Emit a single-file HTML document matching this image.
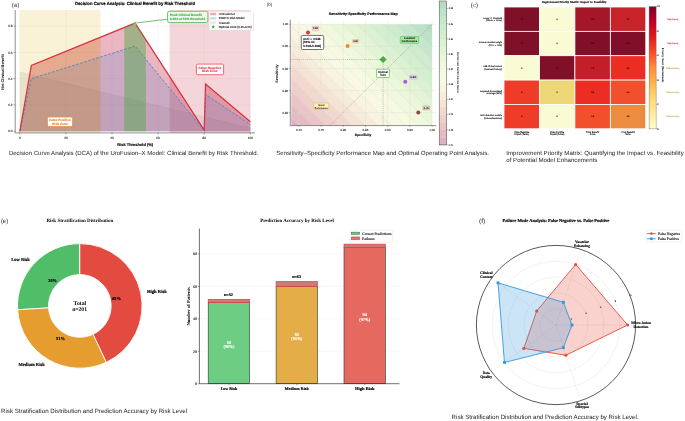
<!DOCTYPE html>
<html><head><meta charset="utf-8"><style>
html,body{margin:0;padding:0;background:#fff;width:685px;height:421px;overflow:hidden;}
svg{display:block;} text{text-rendering:geometricPrecision;}
</style></head><body>
<svg width="685" height="421" viewBox="0 0 685 421">
<rect width="685" height="421" fill="#fff"/>
<rect x="169.63" y="10" width="80.68" height="122.9" fill="#f4d5d9"/>
<line x1="19.8" y1="10" x2="19.8" y2="132.9" stroke="#b0b0b0" stroke-opacity="0.25" stroke-width="0.4"/>
<line x1="65.9" y1="10" x2="65.9" y2="132.9" stroke="#b0b0b0" stroke-opacity="0.25" stroke-width="0.4"/>
<line x1="112" y1="10" x2="112" y2="132.9" stroke="#b0b0b0" stroke-opacity="0.25" stroke-width="0.4"/>
<line x1="158.1" y1="10" x2="158.1" y2="132.9" stroke="#b0b0b0" stroke-opacity="0.25" stroke-width="0.4"/>
<line x1="204.2" y1="10" x2="204.2" y2="132.9" stroke="#b0b0b0" stroke-opacity="0.25" stroke-width="0.4"/>
<line x1="250.3" y1="10" x2="250.3" y2="132.9" stroke="#b0b0b0" stroke-opacity="0.25" stroke-width="0.4"/>
<line x1="15.2" y1="131.3" x2="255" y2="131.3" stroke="#b0b0b0" stroke-opacity="0.25" stroke-width="0.4"/>
<line x1="15.2" y1="105" x2="255" y2="105" stroke="#b0b0b0" stroke-opacity="0.25" stroke-width="0.4"/>
<line x1="15.2" y1="78.7" x2="255" y2="78.7" stroke="#b0b0b0" stroke-opacity="0.25" stroke-width="0.4"/>
<line x1="15.2" y1="52.4" x2="255" y2="52.4" stroke="#b0b0b0" stroke-opacity="0.25" stroke-width="0.4"/>
<line x1="15.2" y1="26.1" x2="255" y2="26.1" stroke="#b0b0b0" stroke-opacity="0.25" stroke-width="0.4"/>
<polygon points="19.8,72.12 250.3,128.01 250.3,131.3 19.8,131.3" fill="#808080" fill-opacity="0.13"/>
<line x1="19.8" y1="72.12" x2="250.3" y2="128.01" stroke="#999" stroke-opacity="0.25" stroke-width="0.5"/>
<polygon points="19.8,131.3 31.33,65.55 135.05,23.08 204.2,129.99 205.58,83.96 250.3,121.7 250.3,131.3 19.8,131.3" fill="#b80c34" fill-opacity="0.3"/>
<polygon points="19.8,131.3 31.33,78.7 135.05,46.09 204.2,130.64 205.58,94.48 250.3,124.33 250.3,131.3 19.8,131.3" fill="#4682c8" fill-opacity="0.19"/>
<polygon points="19.8,131.3 31.33,65.55 100.48,37.23 100.48,131.3" fill="#ff9a00" fill-opacity="0.11"/>
<rect x="19.8" y="10" width="80.68" height="122.9" fill="#f9f2d6" style="mix-blend-mode:multiply"/>
<polyline points="19.8,131.3 31.33,78.7 135.05,46.09 204.2,130.64 205.58,94.48 250.3,124.33" fill="none" stroke="#4a86c4" stroke-width="0.9" stroke-dasharray="2.6,1.6"/>
<polyline points="19.8,131.3 31.33,65.55 135.05,23.08 204.2,129.99 205.58,83.96 250.3,121.7" fill="none" stroke="#d8303a" stroke-width="1.2" stroke-linejoin="miter"/>
<polygon points="124.22,131.3 124.22,27.51 135.05,23.08 145.88,39.82 145.88,131.3" fill="#3caa32" fill-opacity="0.4"/>
<line x1="15.2" y1="10" x2="15.2" y2="132.9" stroke="#444" stroke-width="0.6"/>
<line x1="15.2" y1="132.9" x2="255" y2="132.9" stroke="#444" stroke-width="0.6"/>
<line x1="13.7" y1="131.3" x2="15.2" y2="131.3" stroke="#444" stroke-width="0.5"/>
<text x="12.5" y="132.4" font-size="3.1" font-family="'Liberation Sans', sans-serif" text-anchor="end" font-weight="normal" fill="#333" textLength="4.3" lengthAdjust="spacingAndGlyphs" stroke="#333" stroke-width="0.11">0.0</text>
<line x1="13.7" y1="105" x2="15.2" y2="105" stroke="#444" stroke-width="0.5"/>
<text x="12.5" y="106.1" font-size="3.1" font-family="'Liberation Sans', sans-serif" text-anchor="end" font-weight="normal" fill="#333" textLength="4.3" lengthAdjust="spacingAndGlyphs" stroke="#333" stroke-width="0.11">0.2</text>
<line x1="13.7" y1="78.7" x2="15.2" y2="78.7" stroke="#444" stroke-width="0.5"/>
<text x="12.5" y="79.8" font-size="3.1" font-family="'Liberation Sans', sans-serif" text-anchor="end" font-weight="normal" fill="#333" textLength="4.3" lengthAdjust="spacingAndGlyphs" stroke="#333" stroke-width="0.11">0.4</text>
<line x1="13.7" y1="52.4" x2="15.2" y2="52.4" stroke="#444" stroke-width="0.5"/>
<text x="12.5" y="53.5" font-size="3.1" font-family="'Liberation Sans', sans-serif" text-anchor="end" font-weight="normal" fill="#333" textLength="4.3" lengthAdjust="spacingAndGlyphs" stroke="#333" stroke-width="0.11">0.6</text>
<line x1="13.7" y1="26.1" x2="15.2" y2="26.1" stroke="#444" stroke-width="0.5"/>
<text x="12.5" y="27.2" font-size="3.1" font-family="'Liberation Sans', sans-serif" text-anchor="end" font-weight="normal" fill="#333" textLength="4.3" lengthAdjust="spacingAndGlyphs" stroke="#333" stroke-width="0.11">0.8</text>
<line x1="19.8" y1="132.9" x2="19.8" y2="134.4" stroke="#444" stroke-width="0.5"/>
<text x="19.8" y="139.1" font-size="3.1" font-family="'Liberation Sans', sans-serif" text-anchor="middle" font-weight="normal" fill="#333" stroke="#333" stroke-width="0.11">0</text>
<line x1="65.9" y1="132.9" x2="65.9" y2="134.4" stroke="#444" stroke-width="0.5"/>
<text x="65.9" y="139.1" font-size="3.1" font-family="'Liberation Sans', sans-serif" text-anchor="middle" font-weight="normal" fill="#333" stroke="#333" stroke-width="0.11">20</text>
<line x1="112" y1="132.9" x2="112" y2="134.4" stroke="#444" stroke-width="0.5"/>
<text x="112" y="139.1" font-size="3.1" font-family="'Liberation Sans', sans-serif" text-anchor="middle" font-weight="normal" fill="#333" stroke="#333" stroke-width="0.11">40</text>
<line x1="158.1" y1="132.9" x2="158.1" y2="134.4" stroke="#444" stroke-width="0.5"/>
<text x="158.1" y="139.1" font-size="3.1" font-family="'Liberation Sans', sans-serif" text-anchor="middle" font-weight="normal" fill="#333" stroke="#333" stroke-width="0.11">60</text>
<line x1="204.2" y1="132.9" x2="204.2" y2="134.4" stroke="#444" stroke-width="0.5"/>
<text x="204.2" y="139.1" font-size="3.1" font-family="'Liberation Sans', sans-serif" text-anchor="middle" font-weight="normal" fill="#333" stroke="#333" stroke-width="0.11">80</text>
<line x1="250.3" y1="132.9" x2="250.3" y2="134.4" stroke="#444" stroke-width="0.5"/>
<text x="250.3" y="139.1" font-size="3.1" font-family="'Liberation Sans', sans-serif" text-anchor="middle" font-weight="normal" fill="#333" stroke="#333" stroke-width="0.11">100</text>
<text x="135.2" y="145.9" font-size="3.94" font-family="'Liberation Sans', sans-serif" text-anchor="middle" font-weight="bold" fill="#000" textLength="35.7" lengthAdjust="spacingAndGlyphs" stroke="#000" stroke-width="0.14">Risk Threshold (%)</text>
<text transform="translate(3.9,72) rotate(-90)" font-size="3.93" font-family="'Liberation Sans', sans-serif" text-anchor="middle" font-weight="bold" textLength="35.8" lengthAdjust="spacingAndGlyphs">Net Clinical Benefit</text>
<text x="74.9" y="4.6" font-size="4.5" font-family="'Liberation Sans', sans-serif" text-anchor="start" font-weight="bold" fill="#000" textLength="120.1" lengthAdjust="spacingAndGlyphs" stroke="#000" stroke-width="0.16">Decision Curve Analysis: Clinical Benefit by Risk Threshold</text>
<text x="11.8" y="6.8" font-size="6" font-family="'Liberation Sans', sans-serif" text-anchor="start" font-weight="normal" fill="#333" textLength="7.4" lengthAdjust="spacingAndGlyphs">(a)</text>
<line x1="135.05" y1="23.08" x2="167.5" y2="19.2" stroke="#3aa33a" stroke-width="0.7"/>
<polygon points="135.05,21.28 135.53,22.42 136.76,22.52 135.82,23.33 136.11,24.53 135.05,23.89 133.99,24.53 134.28,23.33 133.34,22.52 134.57,22.42" fill="#2e9e2e" stroke="white" stroke-width="0.4"/>
<rect x="167.5" y="11.3" width="40.3" height="11.2" rx="1.6" fill="#eef8ee" stroke="#5cb85c" stroke-width="0.8"/>
<text x="170.1" y="15.8" font-size="3.22" font-family="'Liberation Sans', sans-serif" text-anchor="start" font-weight="bold" fill="#4cae4c" textLength="31.7" lengthAdjust="spacingAndGlyphs" stroke="#4cae4c" stroke-width="0.11">Peak Clinical Benefit</text>
<text x="170.1" y="19.7" font-size="3.22" font-family="'Liberation Sans', sans-serif" text-anchor="start" font-weight="bold" fill="#4cae4c" textLength="34.9" lengthAdjust="spacingAndGlyphs" stroke="#4cae4c" stroke-width="0.11">0.823 at 50% threshold</text>
<rect x="209.7" y="12.3" width="44.2" height="18.6" rx="0.8" fill="#000" fill-opacity="0.12"/>
<rect x="209.2" y="11.8" width="44.2" height="18.6" rx="0.8" fill="#fff" fill-opacity="0.95" stroke="#ddd" stroke-width="0.3"/>
<rect x="210.2" y="12.8" width="6" height="2.4" fill="#e8a8b2"/>
<text x="218.8" y="15.05" font-size="2.94" font-family="'Liberation Sans', sans-serif" text-anchor="start" font-weight="normal" fill="#222" stroke="#222" stroke-width="0.1">UroFusion-X</text>
<rect x="210.2" y="17.1" width="6" height="2.4" fill="#c8dbeb"/>
<text x="218.8" y="19.35" font-size="2.94" font-family="'Liberation Sans', sans-serif" text-anchor="start" font-weight="normal" fill="#222" stroke="#222" stroke-width="0.1">EORTC Risk Model</text>
<rect x="210.2" y="21.4" width="6" height="2.4" fill="#e8e8e8"/>
<text x="218.8" y="23.65" font-size="2.94" font-family="'Liberation Sans', sans-serif" text-anchor="start" font-weight="normal" fill="#222" stroke="#222" stroke-width="0.1">Treat All</text>
<polygon points="213.2,25.1 213.7,26.31 215.01,26.41 214.01,27.26 214.32,28.54 213.2,27.86 212.08,28.54 212.39,27.26 211.39,26.41 212.7,26.31" fill="#2e9e2e" stroke="none" stroke-width="0.4"/>
<text x="218.8" y="27.95" font-size="2.94" font-family="'Liberation Sans', sans-serif" text-anchor="start" font-weight="normal" fill="#222" textLength="32.9" lengthAdjust="spacingAndGlyphs" stroke="#222" stroke-width="0.1">Optimal Zone (0.45-0.55)</text>
<rect x="47.4" y="117" width="25.2" height="9.6" rx="1.4" fill="#fff" stroke="#e8873a" stroke-width="0.75"/>
<text x="60" y="120.8" font-size="3.27" font-family="'Liberation Sans', sans-serif" text-anchor="middle" font-weight="bold" fill="#e8873a" textLength="21.8" lengthAdjust="spacingAndGlyphs" stroke="#e8873a" stroke-width="0.11">False Positive</text>
<text x="60" y="124.5" font-size="3.27" font-family="'Liberation Sans', sans-serif" text-anchor="middle" font-weight="bold" fill="#e8873a" textLength="15.6" lengthAdjust="spacingAndGlyphs" stroke="#e8873a" stroke-width="0.11">Risk Zone</text>
<rect x="196.4" y="64.1" width="27.2" height="10.6" rx="1.4" fill="#fff" stroke="#e04a50" stroke-width="0.8"/>
<text x="209.85" y="68.5" font-size="3.27" font-family="'Liberation Sans', sans-serif" text-anchor="middle" font-weight="bold" fill="#e04a50" textLength="22.9" lengthAdjust="spacingAndGlyphs" stroke="#e04a50" stroke-width="0.11">False Negative</text>
<text x="209.75" y="72.1" font-size="3.27" font-family="'Liberation Sans', sans-serif" text-anchor="middle" font-weight="bold" fill="#e04a50" textLength="15.7" lengthAdjust="spacingAndGlyphs" stroke="#e04a50" stroke-width="0.11">Risk Zone</text>
<text x="8.9" y="155.1" font-size="6" font-family="'Liberation Sans', sans-serif" text-anchor="start" font-weight="normal" fill="#222" textLength="249.5" lengthAdjust="spacingAndGlyphs">Decision Curve Analysis (DCA) of the UroFusion–X Model: Clinical Benefit by Risk Threshold.</text>
<clipPath id="bclip"><rect x="291.3" y="24.3" width="140.7" height="101.3"/></clipPath>
<g clip-path="url(#bclip)">
<polygon points="-121.56,19.3 191.76,19.3 303.56,130.6 -9.76,130.6" fill="#deb1c2" stroke="#deb1c2" stroke-width="0.25"/>
<polygon points="191.76,19.3 205.08,19.3 316.88,130.6 303.56,130.6" fill="#e5bac3" stroke="#e5bac3" stroke-width="0.25"/>
<polygon points="205.08,19.3 218.4,19.3 330.2,130.6 316.88,130.6" fill="#ebc4c7" stroke="#ebc4c7" stroke-width="0.25"/>
<polygon points="218.4,19.3 231.72,19.3 343.52,130.6 330.2,130.6" fill="#efcfcc" stroke="#efcfcc" stroke-width="0.25"/>
<polygon points="231.72,19.3 245.04,19.3 356.84,130.6 343.52,130.6" fill="#f2d9d0" stroke="#f2d9d0" stroke-width="0.25"/>
<polygon points="245.04,19.3 258.36,19.3 370.16,130.6 356.84,130.6" fill="#f5e4d5" stroke="#f5e4d5" stroke-width="0.25"/>
<polygon points="258.36,19.3 271.68,19.3 383.48,130.6 370.16,130.6" fill="#f7ecdb" stroke="#f7ecdb" stroke-width="0.25"/>
<polygon points="271.68,19.3 285,19.3 396.8,130.6 383.48,130.6" fill="#f9f3e2" stroke="#f9f3e2" stroke-width="0.25"/>
<polygon points="285,19.3 298.32,19.3 410.12,130.6 396.8,130.6" fill="#f8f8e4" stroke="#f8f8e4" stroke-width="0.25"/>
<polygon points="298.32,19.3 311.64,19.3 423.44,130.6 410.12,130.6" fill="#f5fae1" stroke="#f5fae1" stroke-width="0.25"/>
<polygon points="311.64,19.3 324.96,19.3 436.76,130.6 423.44,130.6" fill="#f0f9dd" stroke="#f0f9dd" stroke-width="0.25"/>
<polygon points="324.96,19.3 338.28,19.3 450.08,130.6 436.76,130.6" fill="#eaf7d8" stroke="#eaf7d8" stroke-width="0.25"/>
<polygon points="338.28,19.3 351.6,19.3 463.4,130.6 450.08,130.6" fill="#e3f4d5" stroke="#e3f4d5" stroke-width="0.25"/>
<polygon points="351.6,19.3 364.92,19.3 476.72,130.6 463.4,130.6" fill="#dbf1d2" stroke="#dbf1d2" stroke-width="0.25"/>
<polygon points="364.92,19.3 378.24,19.3 490.04,130.6 476.72,130.6" fill="#d4eed0" stroke="#d4eed0" stroke-width="0.25"/>
<polygon points="378.24,19.3 391.56,19.3 503.36,130.6 490.04,130.6" fill="#ceebce" stroke="#ceebce" stroke-width="0.25"/>
<polygon points="391.56,19.3 404.88,19.3 516.68,130.6 503.36,130.6" fill="#c6e7cc" stroke="#c6e7cc" stroke-width="0.25"/>
<polygon points="404.88,19.3 418.2,19.3 530,130.6 516.68,130.6" fill="#bee2c9" stroke="#bee2c9" stroke-width="0.25"/>
<polygon points="418.2,19.3 731.52,19.3 843.32,130.6 530,130.6" fill="#b6dbc5" stroke="#b6dbc5" stroke-width="0.25"/>
<line x1="191.76" y1="19.3" x2="303.56" y2="130.6" stroke="#808080" stroke-opacity="0.2" stroke-width="0.4"/>
<line x1="205.08" y1="19.3" x2="316.88" y2="130.6" stroke="#808080" stroke-opacity="0.2" stroke-width="0.4"/>
<line x1="218.4" y1="19.3" x2="330.2" y2="130.6" stroke="#808080" stroke-opacity="0.2" stroke-width="0.4"/>
<line x1="231.72" y1="19.3" x2="343.52" y2="130.6" stroke="#808080" stroke-opacity="0.2" stroke-width="0.4"/>
<line x1="245.04" y1="19.3" x2="356.84" y2="130.6" stroke="#808080" stroke-opacity="0.2" stroke-width="0.4"/>
<line x1="258.36" y1="19.3" x2="370.16" y2="130.6" stroke="#808080" stroke-opacity="0.2" stroke-width="0.4"/>
<line x1="271.68" y1="19.3" x2="383.48" y2="130.6" stroke="#808080" stroke-opacity="0.2" stroke-width="0.4"/>
<line x1="285" y1="19.3" x2="396.8" y2="130.6" stroke="#808080" stroke-opacity="0.2" stroke-width="0.4"/>
<line x1="298.32" y1="19.3" x2="410.12" y2="130.6" stroke="#808080" stroke-opacity="0.2" stroke-width="0.4"/>
<line x1="311.64" y1="19.3" x2="423.44" y2="130.6" stroke="#808080" stroke-opacity="0.2" stroke-width="0.4"/>
<line x1="324.96" y1="19.3" x2="436.76" y2="130.6" stroke="#808080" stroke-opacity="0.2" stroke-width="0.4"/>
<line x1="338.28" y1="19.3" x2="450.08" y2="130.6" stroke="#808080" stroke-opacity="0.2" stroke-width="0.4"/>
<line x1="351.6" y1="19.3" x2="463.4" y2="130.6" stroke="#808080" stroke-opacity="0.2" stroke-width="0.4"/>
<line x1="364.92" y1="19.3" x2="476.72" y2="130.6" stroke="#808080" stroke-opacity="0.2" stroke-width="0.4"/>
<line x1="378.24" y1="19.3" x2="490.04" y2="130.6" stroke="#808080" stroke-opacity="0.2" stroke-width="0.4"/>
<line x1="391.56" y1="19.3" x2="503.36" y2="130.6" stroke="#808080" stroke-opacity="0.2" stroke-width="0.4"/>
<line x1="404.88" y1="19.3" x2="516.68" y2="130.6" stroke="#808080" stroke-opacity="0.2" stroke-width="0.4"/>
<line x1="418.2" y1="19.3" x2="530" y2="130.6" stroke="#808080" stroke-opacity="0.2" stroke-width="0.4"/>
</g>
<line x1="298.9" y1="19.6" x2="298.9" y2="125.6" stroke="#d8d8d8" stroke-opacity="0.7" stroke-width="0.45"/>
<line x1="321.1" y1="19.6" x2="321.1" y2="125.6" stroke="#d8d8d8" stroke-opacity="0.7" stroke-width="0.45"/>
<line x1="343.3" y1="19.6" x2="343.3" y2="125.6" stroke="#d8d8d8" stroke-opacity="0.7" stroke-width="0.45"/>
<line x1="365.5" y1="19.6" x2="365.5" y2="125.6" stroke="#d8d8d8" stroke-opacity="0.7" stroke-width="0.45"/>
<line x1="387.7" y1="19.6" x2="387.7" y2="125.6" stroke="#d8d8d8" stroke-opacity="0.7" stroke-width="0.45"/>
<line x1="409.9" y1="19.6" x2="409.9" y2="125.6" stroke="#d8d8d8" stroke-opacity="0.7" stroke-width="0.45"/>
<line x1="432.1" y1="19.6" x2="432.1" y2="125.6" stroke="#d8d8d8" stroke-opacity="0.7" stroke-width="0.45"/>
<line x1="290.3" y1="112.7" x2="436.4" y2="112.7" stroke="#d8d8d8" stroke-opacity="0.7" stroke-width="0.45"/>
<line x1="290.3" y1="90.6" x2="436.4" y2="90.6" stroke="#d8d8d8" stroke-opacity="0.7" stroke-width="0.45"/>
<line x1="290.3" y1="68.5" x2="436.4" y2="68.5" stroke="#d8d8d8" stroke-opacity="0.7" stroke-width="0.45"/>
<line x1="290.3" y1="46.4" x2="436.4" y2="46.4" stroke="#d8d8d8" stroke-opacity="0.7" stroke-width="0.45"/>
<line x1="290.3" y1="24.3" x2="436.4" y2="24.3" stroke="#d8d8d8" stroke-opacity="0.7" stroke-width="0.45"/>
<line x1="329.89" y1="125.6" x2="432.1" y2="24.3" stroke="#555" stroke-opacity="0.65" stroke-width="0.45" stroke-dasharray="1.4,1.0"/>
<line x1="290.3" y1="59.5" x2="383.1" y2="59.5" stroke="#666" stroke-opacity="0.75" stroke-width="0.45" stroke-dasharray="1.2,0.9"/>
<line x1="383.1" y1="59.5" x2="383.1" y2="125.6" stroke="#666" stroke-opacity="0.75" stroke-width="0.45" stroke-dasharray="1.2,0.9"/>
<line x1="290.3" y1="19.6" x2="290.3" y2="125.6" stroke="#444" stroke-width="0.6"/>
<line x1="290.3" y1="125.6" x2="436.4" y2="125.6" stroke="#444" stroke-width="0.6"/>
<line x1="289" y1="112.7" x2="290.3" y2="112.7" stroke="#444" stroke-width="0.4"/>
<text x="288.3" y="113.75" font-size="3" font-family="'Liberation Sans', sans-serif" text-anchor="end" font-weight="normal" fill="#333" stroke="#333" stroke-width="0.1">0.80</text>
<line x1="289" y1="90.6" x2="290.3" y2="90.6" stroke="#444" stroke-width="0.4"/>
<text x="288.3" y="91.65" font-size="3" font-family="'Liberation Sans', sans-serif" text-anchor="end" font-weight="normal" fill="#333" stroke="#333" stroke-width="0.1">0.85</text>
<line x1="289" y1="68.5" x2="290.3" y2="68.5" stroke="#444" stroke-width="0.4"/>
<text x="288.3" y="69.55" font-size="3" font-family="'Liberation Sans', sans-serif" text-anchor="end" font-weight="normal" fill="#333" stroke="#333" stroke-width="0.1">0.90</text>
<line x1="289" y1="46.4" x2="290.3" y2="46.4" stroke="#444" stroke-width="0.4"/>
<text x="288.3" y="47.45" font-size="3" font-family="'Liberation Sans', sans-serif" text-anchor="end" font-weight="normal" fill="#333" stroke="#333" stroke-width="0.1">0.95</text>
<line x1="289" y1="24.3" x2="290.3" y2="24.3" stroke="#444" stroke-width="0.4"/>
<text x="288.3" y="25.35" font-size="3" font-family="'Liberation Sans', sans-serif" text-anchor="end" font-weight="normal" fill="#333" stroke="#333" stroke-width="0.1">1.00</text>
<line x1="298.9" y1="125.6" x2="298.9" y2="126.9" stroke="#444" stroke-width="0.4"/>
<text x="298.9" y="130.5" font-size="3" font-family="'Liberation Sans', sans-serif" text-anchor="middle" font-weight="normal" fill="#333" stroke="#333" stroke-width="0.1">0.70</text>
<line x1="321.1" y1="125.6" x2="321.1" y2="126.9" stroke="#444" stroke-width="0.4"/>
<text x="321.1" y="130.5" font-size="3" font-family="'Liberation Sans', sans-serif" text-anchor="middle" font-weight="normal" fill="#333" stroke="#333" stroke-width="0.1">0.75</text>
<line x1="343.3" y1="125.6" x2="343.3" y2="126.9" stroke="#444" stroke-width="0.4"/>
<text x="343.3" y="130.5" font-size="3" font-family="'Liberation Sans', sans-serif" text-anchor="middle" font-weight="normal" fill="#333" stroke="#333" stroke-width="0.1">0.80</text>
<line x1="365.5" y1="125.6" x2="365.5" y2="126.9" stroke="#444" stroke-width="0.4"/>
<text x="365.5" y="130.5" font-size="3" font-family="'Liberation Sans', sans-serif" text-anchor="middle" font-weight="normal" fill="#333" stroke="#333" stroke-width="0.1">0.85</text>
<line x1="387.7" y1="125.6" x2="387.7" y2="126.9" stroke="#444" stroke-width="0.4"/>
<text x="387.7" y="130.5" font-size="3" font-family="'Liberation Sans', sans-serif" text-anchor="middle" font-weight="normal" fill="#333" stroke="#333" stroke-width="0.1">0.90</text>
<line x1="409.9" y1="125.6" x2="409.9" y2="126.9" stroke="#444" stroke-width="0.4"/>
<text x="409.9" y="130.5" font-size="3" font-family="'Liberation Sans', sans-serif" text-anchor="middle" font-weight="normal" fill="#333" stroke="#333" stroke-width="0.1">0.95</text>
<line x1="432.1" y1="125.6" x2="432.1" y2="126.9" stroke="#444" stroke-width="0.4"/>
<text x="432.1" y="130.5" font-size="3" font-family="'Liberation Sans', sans-serif" text-anchor="middle" font-weight="normal" fill="#333" stroke="#333" stroke-width="0.1">1.00</text>
<text x="363.1" y="136" font-size="3.32" font-family="'Liberation Sans', sans-serif" text-anchor="middle" font-weight="bold" fill="#000" textLength="16.6" lengthAdjust="spacingAndGlyphs" stroke="#000" stroke-width="0.12">Specificity</text>
<text transform="translate(278.3,73.5) rotate(-90)" font-size="3.66" font-family="'Liberation Sans', sans-serif" text-anchor="middle" font-weight="bold" textLength="18.3" lengthAdjust="spacingAndGlyphs">Sensitivity</text>
<text x="328.8" y="14.7" font-size="3.63" font-family="'Liberation Sans', sans-serif" text-anchor="start" font-weight="bold" fill="#000" textLength="68.9" lengthAdjust="spacingAndGlyphs" stroke="#000" stroke-width="0.13">Sensitivity-Specificity Performance Map</text>
<text x="266.8" y="5.9" font-size="5" font-family="'Liberation Sans', sans-serif" text-anchor="start" font-weight="normal" fill="#333" textLength="5.6" lengthAdjust="spacingAndGlyphs">(b)</text>
<circle cx="308" cy="32.6" r="2.0" fill="#d9363e"/>
<circle cx="347.6" cy="46.1" r="2.0" fill="#ef8a2a"/>
<circle cx="405.3" cy="81.8" r="2.0" fill="#a064d2"/>
<circle cx="418.3" cy="112.6" r="2.0" fill="#8b4a3a"/>
<polygon points="383.1,55.9 386.7,59.5 383.1,63.1 379.5,59.5" fill="#45ad40"/>
<rect x="312.3" y="26.3" width="6.3" height="4.4" rx="0.4" fill="#f6e6e6" stroke="#e08080" stroke-width="0.45"/>
<text x="315.45" y="29.4" font-size="2.6" font-family="'Liberation Sans', sans-serif" text-anchor="middle" font-weight="bold" fill="#222" textLength="4.9" lengthAdjust="spacingAndGlyphs" stroke="#222" stroke-width="0.09">0.88</text>
<rect x="352.5" y="39.5" width="6.1" height="3.5" rx="0.4" fill="#fbe6d2" stroke="#ef9a5a" stroke-width="0.45"/>
<text x="355.55" y="42.15" font-size="2.6" font-family="'Liberation Sans', sans-serif" text-anchor="middle" font-weight="bold" fill="#222" textLength="4.7" lengthAdjust="spacingAndGlyphs" stroke="#222" stroke-width="0.09">0.90</text>
<rect x="409.5" y="75.3" width="7.5" height="3.7" rx="0.4" fill="#ece4f2" stroke="#b090d0" stroke-width="0.45"/>
<text x="413.25" y="78.05" font-size="2.6" font-family="'Liberation Sans', sans-serif" text-anchor="middle" font-weight="bold" fill="#222" textLength="6.1" lengthAdjust="spacingAndGlyphs" stroke="#222" stroke-width="0.09">0.90</text>
<rect x="423.1" y="106" width="6.4" height="3.8" rx="0.4" fill="#efe4e0" stroke="#a07070" stroke-width="0.45"/>
<text x="426.3" y="108.8" font-size="2.6" font-family="'Liberation Sans', sans-serif" text-anchor="middle" font-weight="bold" fill="#222" textLength="5" lengthAdjust="spacingAndGlyphs" stroke="#222" stroke-width="0.09">0.75</text>
<rect x="301.3" y="35.4" width="22.4" height="14.1" rx="1.2" fill="#fff" stroke="#333" stroke-width="0.7"/>
<text x="303" y="39.7" font-size="3" font-family="'Liberation Sans', sans-serif" text-anchor="start" font-weight="bold" fill="#111" textLength="17.5" lengthAdjust="spacingAndGlyphs" stroke="#111" stroke-width="0.1">AUC = 0.938</text>
<text x="303" y="43.3" font-size="3" font-family="'Liberation Sans', sans-serif" text-anchor="start" font-weight="bold" fill="#111" textLength="12" lengthAdjust="spacingAndGlyphs" stroke="#111" stroke-width="0.1">(95% CI:</text>
<text x="303" y="46.9" font-size="3" font-family="'Liberation Sans', sans-serif" text-anchor="start" font-weight="bold" fill="#111" textLength="18" lengthAdjust="spacingAndGlyphs" stroke="#111" stroke-width="0.1">0.918-0.958)</text>
<rect x="400.3" y="36.5" width="18.4" height="6.8" rx="0.6" fill="#a4e89c" stroke="#4cba45" stroke-width="0.5"/>
<text x="409.5" y="39.4" font-size="2.5" font-family="'Liberation Sans', sans-serif" text-anchor="middle" font-weight="bold" fill="#222" textLength="11" lengthAdjust="spacingAndGlyphs" stroke="#222" stroke-width="0.09">Excellent</text>
<text x="409.5" y="42.3" font-size="2.5" font-family="'Liberation Sans', sans-serif" text-anchor="middle" font-weight="bold" fill="#222" textLength="15.3" lengthAdjust="spacingAndGlyphs" stroke="#222" stroke-width="0.09">Performance</text>
<rect x="376.5" y="69.2" width="12.9" height="8.3" rx="0.7" fill="#fff" stroke="#4cba45" stroke-width="0.65"/>
<text x="383" y="72.8" font-size="2.8" font-family="'Liberation Sans', sans-serif" text-anchor="middle" font-weight="bold" fill="#222" textLength="10.2" lengthAdjust="spacingAndGlyphs" stroke="#222" stroke-width="0.1">Optimal</text>
<text x="383" y="75.9" font-size="2.8" font-family="'Liberation Sans', sans-serif" text-anchor="middle" font-weight="bold" fill="#222" textLength="5.4" lengthAdjust="spacingAndGlyphs" stroke="#222" stroke-width="0.1">0.90</text>
<rect x="313.8" y="103.1" width="15" height="6.5" rx="0.6" fill="#fdf3c0" stroke="#f0b030" stroke-width="0.5"/>
<text x="321.3" y="106" font-size="2.4" font-family="'Liberation Sans', sans-serif" text-anchor="middle" font-weight="bold" fill="#333" textLength="6.2" lengthAdjust="spacingAndGlyphs" stroke="#333" stroke-width="0.08">Good</text>
<text x="321.3" y="108.8" font-size="2.4" font-family="'Liberation Sans', sans-serif" text-anchor="middle" font-weight="bold" fill="#333" textLength="13.2" lengthAdjust="spacingAndGlyphs" stroke="#333" stroke-width="0.08">Performance</text>
<rect x="439.2" y="137.33" width="7.5" height="7.87" fill="#deb1c2"/>
<rect x="439.2" y="129.75" width="7.5" height="7.87" fill="#e5bac3"/>
<rect x="439.2" y="122.18" width="7.5" height="7.87" fill="#ebc4c7"/>
<rect x="439.2" y="114.61" width="7.5" height="7.87" fill="#efcfcc"/>
<rect x="439.2" y="107.03" width="7.5" height="7.87" fill="#f2d9d0"/>
<rect x="439.2" y="99.46" width="7.5" height="7.87" fill="#f5e4d5"/>
<rect x="439.2" y="91.88" width="7.5" height="7.87" fill="#f7ecdb"/>
<rect x="439.2" y="84.31" width="7.5" height="7.87" fill="#f9f3e2"/>
<rect x="439.2" y="76.74" width="7.5" height="7.87" fill="#f8f8e4"/>
<rect x="439.2" y="69.16" width="7.5" height="7.87" fill="#f5fae1"/>
<rect x="439.2" y="61.59" width="7.5" height="7.87" fill="#f0f9dd"/>
<rect x="439.2" y="54.02" width="7.5" height="7.87" fill="#eaf7d8"/>
<rect x="439.2" y="46.44" width="7.5" height="7.87" fill="#e3f4d5"/>
<rect x="439.2" y="38.87" width="7.5" height="7.87" fill="#dbf1d2"/>
<rect x="439.2" y="31.29" width="7.5" height="7.87" fill="#d4eed0"/>
<rect x="439.2" y="23.72" width="7.5" height="7.87" fill="#ceebce"/>
<rect x="439.2" y="16.15" width="7.5" height="7.87" fill="#c6e7cc"/>
<rect x="439.2" y="8.57" width="7.5" height="7.87" fill="#bee2c9"/>
<rect x="439.2" y="1" width="7.5" height="7.87" fill="#b6dbc5"/>
<rect x="439.2" y="1" width="7.5" height="143.9" fill="none" stroke="#444" stroke-width="0.5"/>
<line x1="446.7" y1="144.9" x2="447.9" y2="144.9" stroke="#444" stroke-width="0.4"/>
<text x="448.8" y="145.75" font-size="2.4" font-family="'Liberation Sans', sans-serif" text-anchor="start" font-weight="normal" fill="#222" textLength="4.3" lengthAdjust="spacingAndGlyphs" stroke="#222" stroke-width="0.08">0.72</text>
<line x1="446.7" y1="129.75" x2="447.9" y2="129.75" stroke="#444" stroke-width="0.4"/>
<text x="448.8" y="130.6" font-size="2.4" font-family="'Liberation Sans', sans-serif" text-anchor="start" font-weight="normal" fill="#222" textLength="4.3" lengthAdjust="spacingAndGlyphs" stroke="#222" stroke-width="0.08">0.75</text>
<line x1="446.7" y1="114.61" x2="447.9" y2="114.61" stroke="#444" stroke-width="0.4"/>
<text x="448.8" y="115.46" font-size="2.4" font-family="'Liberation Sans', sans-serif" text-anchor="start" font-weight="normal" fill="#222" textLength="4.3" lengthAdjust="spacingAndGlyphs" stroke="#222" stroke-width="0.08">0.78</text>
<line x1="446.7" y1="99.46" x2="447.9" y2="99.46" stroke="#444" stroke-width="0.4"/>
<text x="448.8" y="100.31" font-size="2.4" font-family="'Liberation Sans', sans-serif" text-anchor="start" font-weight="normal" fill="#222" textLength="4.3" lengthAdjust="spacingAndGlyphs" stroke="#222" stroke-width="0.08">0.81</text>
<line x1="446.7" y1="84.31" x2="447.9" y2="84.31" stroke="#444" stroke-width="0.4"/>
<text x="448.8" y="85.16" font-size="2.4" font-family="'Liberation Sans', sans-serif" text-anchor="start" font-weight="normal" fill="#222" textLength="4.3" lengthAdjust="spacingAndGlyphs" stroke="#222" stroke-width="0.08">0.84</text>
<line x1="446.7" y1="69.16" x2="447.9" y2="69.16" stroke="#444" stroke-width="0.4"/>
<text x="448.8" y="70.01" font-size="2.4" font-family="'Liberation Sans', sans-serif" text-anchor="start" font-weight="normal" fill="#222" textLength="4.3" lengthAdjust="spacingAndGlyphs" stroke="#222" stroke-width="0.08">0.87</text>
<line x1="446.7" y1="54.02" x2="447.9" y2="54.02" stroke="#444" stroke-width="0.4"/>
<text x="448.8" y="54.87" font-size="2.4" font-family="'Liberation Sans', sans-serif" text-anchor="start" font-weight="normal" fill="#222" textLength="4.3" lengthAdjust="spacingAndGlyphs" stroke="#222" stroke-width="0.08">0.90</text>
<line x1="446.7" y1="38.87" x2="447.9" y2="38.87" stroke="#444" stroke-width="0.4"/>
<text x="448.8" y="39.72" font-size="2.4" font-family="'Liberation Sans', sans-serif" text-anchor="start" font-weight="normal" fill="#222" textLength="4.3" lengthAdjust="spacingAndGlyphs" stroke="#222" stroke-width="0.08">0.93</text>
<line x1="446.7" y1="23.72" x2="447.9" y2="23.72" stroke="#444" stroke-width="0.4"/>
<text x="448.8" y="24.57" font-size="2.4" font-family="'Liberation Sans', sans-serif" text-anchor="start" font-weight="normal" fill="#222" textLength="4.3" lengthAdjust="spacingAndGlyphs" stroke="#222" stroke-width="0.08">0.96</text>
<line x1="446.7" y1="8.57" x2="447.9" y2="8.57" stroke="#444" stroke-width="0.4"/>
<text x="448.8" y="9.42" font-size="2.4" font-family="'Liberation Sans', sans-serif" text-anchor="start" font-weight="normal" fill="#222" textLength="4.3" lengthAdjust="spacingAndGlyphs" stroke="#222" stroke-width="0.08">0.99</text>
<text transform="translate(456.6,72.5) rotate(90)" font-size="2.9" font-family="'Liberation Sans', sans-serif" text-anchor="middle" font-weight="bold" fill="#222" textLength="40.5" lengthAdjust="spacingAndGlyphs">Combined Performance Score</text>
<text x="276.2" y="154.6" font-size="6" font-family="'Liberation Sans', sans-serif" text-anchor="start" font-weight="normal" fill="#222" textLength="212.8" lengthAdjust="spacingAndGlyphs">Sensitivity–Specificity Performance Map and Optimal Operating Point Analysis.</text>
<rect x="504" y="7" width="35.45" height="24.36" fill="#801028" stroke="#fff" stroke-width="0.8"/>
<text x="521.73" y="19.93" font-size="2.3" font-family="'Liberation Serif', serif" text-anchor="middle" font-weight="bold" fill="#111" stroke="#111" stroke-width="0.1">9</text>
<rect x="539.45" y="7" width="35.45" height="24.36" fill="#f8fbd3" stroke="#fff" stroke-width="0.8"/>
<text x="557.18" y="19.93" font-size="2.3" font-family="'Liberation Serif', serif" text-anchor="middle" font-weight="bold" fill="#111" stroke="#111" stroke-width="0.1">0</text>
<rect x="574.9" y="7" width="35.45" height="24.36" fill="#a5162a" stroke="#fff" stroke-width="0.8"/>
<text x="592.62" y="19.93" font-size="2.3" font-family="'Liberation Serif', serif" text-anchor="middle" font-weight="bold" fill="#111" stroke="#111" stroke-width="0.1">8.8</text>
<rect x="610.35" y="7" width="35.45" height="24.36" fill="#c82328" stroke="#fff" stroke-width="0.8"/>
<text x="628.08" y="19.93" font-size="2.3" font-family="'Liberation Serif', serif" text-anchor="middle" font-weight="bold" fill="#111" stroke="#111" stroke-width="0.1">7.2</text>
<rect x="504" y="31.36" width="35.45" height="24.36" fill="#801028" stroke="#fff" stroke-width="0.8"/>
<text x="521.73" y="44.29" font-size="2.3" font-family="'Liberation Serif', serif" text-anchor="middle" font-weight="bold" fill="#111" stroke="#111" stroke-width="0.1">9</text>
<rect x="539.45" y="31.36" width="35.45" height="24.36" fill="#f8fbd3" stroke="#fff" stroke-width="0.8"/>
<text x="557.18" y="44.29" font-size="2.3" font-family="'Liberation Serif', serif" text-anchor="middle" font-weight="bold" fill="#111" stroke="#111" stroke-width="0.1">0</text>
<rect x="574.9" y="31.36" width="35.45" height="24.36" fill="#820f2a" stroke="#fff" stroke-width="0.8"/>
<text x="592.62" y="44.29" font-size="2.3" font-family="'Liberation Serif', serif" text-anchor="middle" font-weight="bold" fill="#111" stroke="#111" stroke-width="0.1">9.5</text>
<rect x="610.35" y="31.36" width="35.45" height="24.36" fill="#820f2a" stroke="#fff" stroke-width="0.8"/>
<text x="628.08" y="44.29" font-size="2.3" font-family="'Liberation Serif', serif" text-anchor="middle" font-weight="bold" fill="#111" stroke="#111" stroke-width="0.1">10.0</text>
<rect x="504" y="55.72" width="35.45" height="24.36" fill="#f8fbd3" stroke="#fff" stroke-width="0.8"/>
<text x="521.73" y="68.65" font-size="2.3" font-family="'Liberation Serif', serif" text-anchor="middle" font-weight="bold" fill="#111" stroke="#111" stroke-width="0.1">0</text>
<rect x="539.45" y="55.72" width="35.45" height="24.36" fill="#801028" stroke="#fff" stroke-width="0.8"/>
<text x="557.18" y="68.65" font-size="2.3" font-family="'Liberation Serif', serif" text-anchor="middle" font-weight="bold" fill="#111" stroke="#111" stroke-width="0.1">9</text>
<rect x="574.9" y="55.72" width="35.45" height="24.36" fill="#c31e2a" stroke="#fff" stroke-width="0.8"/>
<text x="592.62" y="68.65" font-size="2.3" font-family="'Liberation Serif', serif" text-anchor="middle" font-weight="bold" fill="#111" stroke="#111" stroke-width="0.1">7.8</text>
<rect x="610.35" y="55.72" width="35.45" height="24.36" fill="#eb2d23" stroke="#fff" stroke-width="0.8"/>
<text x="628.08" y="68.65" font-size="2.3" font-family="'Liberation Serif', serif" text-anchor="middle" font-weight="bold" fill="#111" stroke="#111" stroke-width="0.1">6.1</text>
<rect x="504" y="80.08" width="35.45" height="24.36" fill="#ee3c28" stroke="#fff" stroke-width="0.8"/>
<text x="521.73" y="93.01" font-size="2.3" font-family="'Liberation Serif', serif" text-anchor="middle" font-weight="bold" fill="#111" stroke="#111" stroke-width="0.1">6</text>
<rect x="539.45" y="80.08" width="35.45" height="24.36" fill="#ecd676" stroke="#fff" stroke-width="0.8"/>
<text x="557.18" y="93.01" font-size="2.3" font-family="'Liberation Serif', serif" text-anchor="middle" font-weight="bold" fill="#111" stroke="#111" stroke-width="0.1">3</text>
<rect x="574.9" y="80.08" width="35.45" height="24.36" fill="#eb2d23" stroke="#fff" stroke-width="0.8"/>
<text x="592.62" y="93.01" font-size="2.3" font-family="'Liberation Serif', serif" text-anchor="middle" font-weight="bold" fill="#111" stroke="#111" stroke-width="0.1">6.3</text>
<rect x="610.35" y="80.08" width="35.45" height="24.36" fill="#f2502d" stroke="#fff" stroke-width="0.8"/>
<text x="628.08" y="93.01" font-size="2.3" font-family="'Liberation Serif', serif" text-anchor="middle" font-weight="bold" fill="#111" stroke="#111" stroke-width="0.1">5.5</text>
<rect x="504" y="104.44" width="35.45" height="24.36" fill="#ee3c28" stroke="#fff" stroke-width="0.8"/>
<text x="521.73" y="117.37" font-size="2.3" font-family="'Liberation Serif', serif" text-anchor="middle" font-weight="bold" fill="#111" stroke="#111" stroke-width="0.1">6</text>
<rect x="539.45" y="104.44" width="35.45" height="24.36" fill="#f8fbd3" stroke="#fff" stroke-width="0.8"/>
<text x="557.18" y="117.37" font-size="2.3" font-family="'Liberation Serif', serif" text-anchor="middle" font-weight="bold" fill="#111" stroke="#111" stroke-width="0.1">0</text>
<rect x="574.9" y="104.44" width="35.45" height="24.36" fill="#f2502d" stroke="#fff" stroke-width="0.8"/>
<text x="592.62" y="117.37" font-size="2.3" font-family="'Liberation Serif', serif" text-anchor="middle" font-weight="bold" fill="#111" stroke="#111" stroke-width="0.1">5.8</text>
<rect x="610.35" y="104.44" width="35.45" height="24.36" fill="#eb8c41" stroke="#fff" stroke-width="0.8"/>
<text x="628.08" y="117.37" font-size="2.3" font-family="'Liberation Serif', serif" text-anchor="middle" font-weight="bold" fill="#111" stroke="#111" stroke-width="0.1">4.2</text>
<text x="502" y="18.73" font-size="2.4" font-family="'Liberation Serif', serif" text-anchor="end" font-weight="normal" fill="#111" textLength="18.9" lengthAdjust="spacingAndGlyphs" stroke="#111" stroke-width="0.12">Lower T1 threshold</text>
<text x="502" y="21.23" font-size="2.4" font-family="'Liberation Serif', serif" text-anchor="end" font-weight="normal" fill="#111" textLength="16.1" lengthAdjust="spacingAndGlyphs" stroke="#111" stroke-width="0.12">(10mm → 5mm)</text>
<line x1="503" y1="19.18" x2="504" y2="19.18" stroke="#444" stroke-width="0.3"/>
<text x="502" y="43.09" font-size="2.4" font-family="'Liberation Serif', serif" text-anchor="end" font-weight="normal" fill="#111" textLength="23.2" lengthAdjust="spacingAndGlyphs" stroke="#111" stroke-width="0.12">Increase vascular weight</text>
<text x="502" y="45.59" font-size="2.4" font-family="'Liberation Serif', serif" text-anchor="end" font-weight="normal" fill="#111" textLength="13.2" lengthAdjust="spacingAndGlyphs" stroke="#111" stroke-width="0.12">(0.15 → 0.25)</text>
<line x1="503" y1="43.54" x2="504" y2="43.54" stroke="#444" stroke-width="0.3"/>
<text x="502" y="67.45" font-size="2.4" font-family="'Liberation Serif', serif" text-anchor="end" font-weight="normal" fill="#111" textLength="18.7" lengthAdjust="spacingAndGlyphs" stroke="#111" stroke-width="0.12">Add clinical context</text>
<text x="502" y="69.95" font-size="2.4" font-family="'Liberation Serif', serif" text-anchor="end" font-weight="normal" fill="#111" textLength="17.8" lengthAdjust="spacingAndGlyphs" stroke="#111" stroke-width="0.12">(treatment history)</text>
<line x1="503" y1="67.9" x2="504" y2="67.9" stroke="#444" stroke-width="0.3"/>
<text x="502" y="91.81" font-size="2.4" font-family="'Liberation Serif', serif" text-anchor="end" font-weight="normal" fill="#111" textLength="21.7" lengthAdjust="spacingAndGlyphs" stroke="#111" stroke-width="0.12">Expand AI-assisted</text>
<text x="502" y="94.31" font-size="2.4" font-family="'Liberation Serif', serif" text-anchor="end" font-weight="normal" fill="#111" textLength="15.6" lengthAdjust="spacingAndGlyphs" stroke="#111" stroke-width="0.12">coverage (85%)</text>
<line x1="503" y1="92.26" x2="504" y2="92.26" stroke="#444" stroke-width="0.3"/>
<text x="502" y="116.17" font-size="2.4" font-family="'Liberation Serif', serif" text-anchor="end" font-weight="normal" fill="#111" textLength="21.7" lengthAdjust="spacingAndGlyphs" stroke="#111" stroke-width="0.12">MRI detection module</text>
<text x="502" y="118.67" font-size="2.4" font-family="'Liberation Serif', serif" text-anchor="end" font-weight="normal" fill="#111" textLength="17.8" lengthAdjust="spacingAndGlyphs" stroke="#111" stroke-width="0.12">(microlesions)</text>
<line x1="503" y1="116.62" x2="504" y2="116.62" stroke="#444" stroke-width="0.3"/>
<text x="521.73" y="132.8" font-size="2.5" font-family="'Liberation Serif', serif" text-anchor="middle" font-weight="normal" fill="#111" textLength="14.7" lengthAdjust="spacingAndGlyphs" stroke="#111" stroke-width="0.12">False Negative</text>
<text x="521.73" y="135.3" font-size="2.5" font-family="'Liberation Serif', serif" text-anchor="middle" font-weight="normal" fill="#111" textLength="14.3" lengthAdjust="spacingAndGlyphs" stroke="#111" stroke-width="0.12">Impact (Level)</text>
<line x1="521.73" y1="128.8" x2="521.73" y2="129.8" stroke="#444" stroke-width="0.3"/>
<text x="557.18" y="132.8" font-size="2.5" font-family="'Liberation Serif', serif" text-anchor="middle" font-weight="normal" fill="#111" textLength="14" lengthAdjust="spacingAndGlyphs" stroke="#111" stroke-width="0.12">False Positive</text>
<text x="557.18" y="135.3" font-size="2.5" font-family="'Liberation Serif', serif" text-anchor="middle" font-weight="normal" fill="#111" textLength="14.3" lengthAdjust="spacingAndGlyphs" stroke="#111" stroke-width="0.12">Impact (Level)</text>
<line x1="557.18" y1="128.8" x2="557.18" y2="129.8" stroke="#444" stroke-width="0.3"/>
<text x="592.62" y="132.8" font-size="2.5" font-family="'Liberation Serif', serif" text-anchor="middle" font-weight="normal" fill="#111" textLength="13" lengthAdjust="spacingAndGlyphs" stroke="#111" stroke-width="0.12">Total Benefit</text>
<text x="592.62" y="135.3" font-size="2.5" font-family="'Liberation Serif', serif" text-anchor="middle" font-weight="normal" fill="#111" textLength="5.5" lengthAdjust="spacingAndGlyphs" stroke="#111" stroke-width="0.12">Score</text>
<line x1="592.62" y1="128.8" x2="592.62" y2="129.8" stroke="#444" stroke-width="0.3"/>
<text x="628.08" y="132.8" font-size="2.5" font-family="'Liberation Serif', serif" text-anchor="middle" font-weight="normal" fill="#111" textLength="13.2" lengthAdjust="spacingAndGlyphs" stroke="#111" stroke-width="0.12">Cost-Benefit</text>
<text x="628.08" y="135.3" font-size="2.5" font-family="'Liberation Serif', serif" text-anchor="middle" font-weight="normal" fill="#111" textLength="5.2" lengthAdjust="spacingAndGlyphs" stroke="#111" stroke-width="0.12">Ratio</text>
<line x1="628.08" y1="128.8" x2="628.08" y2="129.8" stroke="#444" stroke-width="0.3"/>
<text x="542" y="3.4" font-size="3.1" font-family="'Liberation Serif', serif" text-anchor="start" font-weight="bold" fill="#000" textLength="64.5" lengthAdjust="spacingAndGlyphs" stroke="#000" stroke-width="0.1">Improvement Priority Matrix: Impact vs. Feasibility</text>
<text x="470.7" y="6.7" font-size="6.4" font-family="'Liberation Serif', serif" text-anchor="start" font-weight="normal" fill="#333" textLength="7.4" lengthAdjust="spacingAndGlyphs">(c)</text>
<defs><linearGradient id="ylorrd" x1="0" y1="1" x2="0" y2="0"><stop offset="0" stop-color="#ffffcc"/><stop offset="0.12" stop-color="#ffeda0"/><stop offset="0.25" stop-color="#fed976"/><stop offset="0.38" stop-color="#feb24c"/><stop offset="0.5" stop-color="#fd8d3c"/><stop offset="0.62" stop-color="#fc4e2a"/><stop offset="0.75" stop-color="#e31a1c"/><stop offset="0.88" stop-color="#bd0026"/><stop offset="1" stop-color="#800026"/></linearGradient></defs>
<rect x="649.1" y="6.6" width="7" height="122.3" fill="url(#ylorrd)" stroke="#555" stroke-width="0.35"/>
<line x1="656.1" y1="128.9" x2="657.1" y2="128.9" stroke="#333" stroke-width="0.3"/>
<text x="657.3" y="129.75" font-size="2.5" font-family="'Liberation Serif', serif" text-anchor="start" font-weight="normal" fill="#111" stroke="#111" stroke-width="0.1">0</text>
<line x1="656.1" y1="104.44" x2="657.1" y2="104.44" stroke="#333" stroke-width="0.3"/>
<text x="657.3" y="105.29" font-size="2.5" font-family="'Liberation Serif', serif" text-anchor="start" font-weight="normal" fill="#111" stroke="#111" stroke-width="0.1">2</text>
<line x1="656.1" y1="79.98" x2="657.1" y2="79.98" stroke="#333" stroke-width="0.3"/>
<text x="657.3" y="80.83" font-size="2.5" font-family="'Liberation Serif', serif" text-anchor="start" font-weight="normal" fill="#111" stroke="#111" stroke-width="0.1">4</text>
<line x1="656.1" y1="55.52" x2="657.1" y2="55.52" stroke="#333" stroke-width="0.3"/>
<text x="657.3" y="56.37" font-size="2.5" font-family="'Liberation Serif', serif" text-anchor="start" font-weight="normal" fill="#111" stroke="#111" stroke-width="0.1">6</text>
<line x1="656.1" y1="31.06" x2="657.1" y2="31.06" stroke="#333" stroke-width="0.3"/>
<text x="657.3" y="31.91" font-size="2.5" font-family="'Liberation Serif', serif" text-anchor="start" font-weight="normal" fill="#111" stroke="#111" stroke-width="0.1">8</text>
<line x1="656.1" y1="6.6" x2="657.1" y2="6.6" stroke="#333" stroke-width="0.3"/>
<text x="657.3" y="7.45" font-size="2.5" font-family="'Liberation Serif', serif" text-anchor="start" font-weight="normal" fill="#111" stroke="#111" stroke-width="0.1">10</text>
<text transform="translate(662.4,65.2) rotate(90)" font-size="2.8" font-family="'Liberation Serif', serif" text-anchor="middle" fill="#111" stroke="#111" stroke-width="0.08" textLength="34.3" lengthAdjust="spacingAndGlyphs">Priority Score (Normalized)</text>
<text x="672.9" y="19.93" font-size="2.3" font-family="'Liberation Serif', serif" text-anchor="middle" font-weight="normal" fill="#c0392b" textLength="11.3" lengthAdjust="spacingAndGlyphs" stroke="#c0392b" stroke-width="0.1">High Priority</text>
<text x="672.9" y="44.29" font-size="2.3" font-family="'Liberation Serif', serif" text-anchor="middle" font-weight="normal" fill="#c0392b" textLength="11.3" lengthAdjust="spacingAndGlyphs" stroke="#c0392b" stroke-width="0.1">High Priority</text>
<text x="672.9" y="68.65" font-size="2.3" font-family="'Liberation Serif', serif" text-anchor="middle" font-weight="normal" fill="#d98a3a" textLength="13.5" lengthAdjust="spacingAndGlyphs" stroke="#d98a3a" stroke-width="0.1">Medium Priority</text>
<text x="672.9" y="93.01" font-size="2.3" font-family="'Liberation Serif', serif" text-anchor="middle" font-weight="normal" fill="#dc9c40" textLength="13.5" lengthAdjust="spacingAndGlyphs" stroke="#dc9c40" stroke-width="0.1">Medium Priority</text>
<text x="672.9" y="117.37" font-size="2.3" font-family="'Liberation Serif', serif" text-anchor="middle" font-weight="normal" fill="#dc9c40" textLength="13.5" lengthAdjust="spacingAndGlyphs" stroke="#dc9c40" stroke-width="0.1">Medium Priority</text>
<text x="506.3" y="155.2" font-size="6" font-family="'Liberation Sans', sans-serif" text-anchor="start" font-weight="normal" fill="#222" textLength="177.4" lengthAdjust="spacingAndGlyphs">Improvement Priority Matrix: Quantifying the Impact vs. Feasibility</text>
<text x="506.3" y="161.8" font-size="6" font-family="'Liberation Sans', sans-serif" text-anchor="start" font-weight="normal" fill="#222" textLength="91.1" lengthAdjust="spacingAndGlyphs">of Potential Model Enhancements</text>
<path d="M79.8,243.6 A62.3,62.3 0 0 0 17.62,309.81 L48.56,307.87 A31.3,31.3 0 0 1 79.8,274.6 Z" fill="#50be69" stroke="#fff" stroke-width="0.9"/>
<path d="M17.62,309.81 A62.3,62.3 0 0 0 106.33,362.27 L93.13,334.22 A31.3,31.3 0 0 1 48.56,307.87 Z" fill="#e59d2f" stroke="#fff" stroke-width="0.9"/>
<path d="M106.33,362.27 A62.3,62.3 0 0 0 79.8,243.6 L79.8,274.6 A31.3,31.3 0 0 1 93.13,334.22 Z" fill="#e44b40" stroke="#fff" stroke-width="0.9"/>
<text x="46.4" y="222.2" font-size="5" font-family="'Liberation Serif', serif" text-anchor="start" font-weight="bold" fill="#000" textLength="66.9" lengthAdjust="spacingAndGlyphs">Risk Stratification Distribution</text>
<text x="0.9" y="223.4" font-size="6.2" font-family="'Liberation Sans', sans-serif" text-anchor="start" font-weight="normal" fill="#222" textLength="7.2" lengthAdjust="spacingAndGlyphs">(e)</text>
<text x="11.2" y="260.6" font-size="4.6" font-family="'Liberation Serif', serif" text-anchor="start" font-weight="bold" fill="#000" textLength="18.7" lengthAdjust="spacingAndGlyphs" stroke="#000" stroke-width="0.16">Low Risk</text>
<text x="18.4" y="366.2" font-size="4.6" font-family="'Liberation Serif', serif" text-anchor="start" font-weight="bold" fill="#000" textLength="26.3" lengthAdjust="spacingAndGlyphs" stroke="#000" stroke-width="0.16">Medium Risk</text>
<text x="146.9" y="292.8" font-size="4.6" font-family="'Liberation Serif', serif" text-anchor="start" font-weight="bold" fill="#000" textLength="19.9" lengthAdjust="spacingAndGlyphs" stroke="#000" stroke-width="0.16">High Risk</text>
<text x="52.6" y="281.7" font-size="4.4" font-family="'Liberation Serif', serif" text-anchor="middle" font-weight="bold" fill="#000" textLength="8.8" lengthAdjust="spacingAndGlyphs" stroke="#000" stroke-width="0.15">26%</text>
<text x="60.4" y="339.6" font-size="4.4" font-family="'Liberation Serif', serif" text-anchor="middle" font-weight="bold" fill="#000" textLength="8.9" lengthAdjust="spacingAndGlyphs" stroke="#000" stroke-width="0.15">31%</text>
<text x="116.4" y="299.5" font-size="4.4" font-family="'Liberation Serif', serif" text-anchor="middle" font-weight="bold" fill="#000" textLength="9.1" lengthAdjust="spacingAndGlyphs" stroke="#000" stroke-width="0.15">43%</text>
<text x="79.9" y="304.7" font-size="5.7" font-family="'Liberation Serif', serif" text-anchor="middle" font-weight="bold" fill="#000" textLength="12.6" lengthAdjust="spacingAndGlyphs">Total</text>
<text x="79.6" y="310.8" font-size="5.7" font-family="'Liberation Serif', serif" text-anchor="middle" font-weight="bold" fill="#000" textLength="14.7" lengthAdjust="spacingAndGlyphs">n=201</text>
<text x="1.05" y="412.9" font-size="6.1" font-family="'Liberation Sans', sans-serif" text-anchor="start" font-weight="normal" fill="#222" textLength="186" lengthAdjust="spacingAndGlyphs">Risk Stratification Distribution and Prediction Accuracy by Risk Level</text>
<defs><pattern id="hatch" width="1.9" height="1.9" patternUnits="userSpaceOnUse" patternTransform="rotate(45)"><rect width="1.9" height="1.9" fill="#e0625c"/><line x1="0.5" y1="0" x2="0.5" y2="1.9" stroke="#a0a0a0" stroke-width="0.8"/></pattern></defs>
<line x1="199.4" y1="351.25" x2="399.5" y2="351.25" stroke="#bbb" stroke-opacity="0.6" stroke-width="0.35" stroke-dasharray="1.2,0.9"/>
<line x1="199.4" y1="318.8" x2="399.5" y2="318.8" stroke="#bbb" stroke-opacity="0.6" stroke-width="0.35" stroke-dasharray="1.2,0.9"/>
<line x1="199.4" y1="286.35" x2="399.5" y2="286.35" stroke="#bbb" stroke-opacity="0.6" stroke-width="0.35" stroke-dasharray="1.2,0.9"/>
<line x1="199.4" y1="253.9" x2="399.5" y2="253.9" stroke="#bbb" stroke-opacity="0.6" stroke-width="0.35" stroke-dasharray="1.2,0.9"/>
<rect x="208.2" y="302.57" width="41.4" height="81.12" fill="#6ccd83" stroke="#333" stroke-width="0.6"/>
<rect x="208.2" y="299.33" width="41.4" height="3.25" fill="url(#hatch)" stroke="#e43c3c" stroke-width="0.7"/>
<text x="228.9" y="343.84" font-size="4.3" font-family="'Liberation Serif', serif" text-anchor="middle" font-weight="normal" fill="#fff" stroke="#fff" stroke-width="0.15">50</text>
<text x="228.9" y="348.34" font-size="4.3" font-family="'Liberation Serif', serif" text-anchor="middle" font-weight="normal" fill="#fff" textLength="11" lengthAdjust="spacingAndGlyphs" stroke="#fff" stroke-width="0.15">(96%)</text>
<text x="228.9" y="389.7" font-size="4.05" font-family="'Liberation Serif', serif" text-anchor="middle" font-weight="bold" fill="#000" textLength="16.5" lengthAdjust="spacingAndGlyphs" stroke="#000" stroke-width="0.14">Low Risk</text>
<rect x="276.1" y="286.35" width="41.4" height="97.35" fill="#e4ad48" stroke="#333" stroke-width="0.6"/>
<rect x="276.1" y="281.48" width="41.4" height="4.87" fill="url(#hatch)" stroke="#e43c3c" stroke-width="0.7"/>
<text x="296.8" y="335.72" font-size="4.3" font-family="'Liberation Serif', serif" text-anchor="middle" font-weight="normal" fill="#fff" stroke="#fff" stroke-width="0.15">60</text>
<text x="296.8" y="340.22" font-size="4.3" font-family="'Liberation Serif', serif" text-anchor="middle" font-weight="normal" fill="#fff" textLength="11" lengthAdjust="spacingAndGlyphs" stroke="#fff" stroke-width="0.15">(95%)</text>
<text x="296.8" y="389.7" font-size="4.05" font-family="'Liberation Serif', serif" text-anchor="middle" font-weight="bold" fill="#000" textLength="23.9" lengthAdjust="spacingAndGlyphs" stroke="#000" stroke-width="0.14">Medium Risk</text>
<rect x="344" y="247.41" width="41.4" height="136.29" fill="#e6695f" stroke="#333" stroke-width="0.6"/>
<rect x="344" y="244.16" width="41.4" height="3.25" fill="url(#hatch)" stroke="#e43c3c" stroke-width="0.7"/>
<text x="364.7" y="316.25" font-size="4.3" font-family="'Liberation Serif', serif" text-anchor="middle" font-weight="normal" fill="#fff" stroke="#fff" stroke-width="0.15">84</text>
<text x="364.7" y="320.75" font-size="4.3" font-family="'Liberation Serif', serif" text-anchor="middle" font-weight="normal" fill="#fff" textLength="11" lengthAdjust="spacingAndGlyphs" stroke="#fff" stroke-width="0.15">(97%)</text>
<text x="364.7" y="389.7" font-size="4.05" font-family="'Liberation Serif', serif" text-anchor="middle" font-weight="bold" fill="#000" textLength="19.6" lengthAdjust="spacingAndGlyphs" stroke="#000" stroke-width="0.14">High Risk</text>
<text x="228.5" y="296" font-size="4.2" font-family="'Liberation Serif', serif" text-anchor="middle" font-weight="bold" fill="#000" textLength="8.9" lengthAdjust="spacingAndGlyphs" stroke="#000" stroke-width="0.15">n=52</text>
<text x="296.6" y="278.1" font-size="4.2" font-family="'Liberation Serif', serif" text-anchor="middle" font-weight="bold" fill="#000" textLength="8.9" lengthAdjust="spacingAndGlyphs" stroke="#000" stroke-width="0.15">n=63</text>
<line x1="199.4" y1="228.5" x2="199.4" y2="383.7" stroke="#333" stroke-width="0.7"/>
<line x1="199.4" y1="383.7" x2="399.5" y2="383.7" stroke="#333" stroke-width="0.7"/>
<line x1="197.8" y1="383.7" x2="199.4" y2="383.7" stroke="#333" stroke-width="0.45"/>
<text x="196.9" y="384.95" font-size="3.7" font-family="'Liberation Serif', serif" text-anchor="end" font-weight="normal" fill="#222" textLength="1.9" lengthAdjust="spacingAndGlyphs" stroke="#222" stroke-width="0.13">0</text>
<line x1="197.8" y1="351.25" x2="199.4" y2="351.25" stroke="#333" stroke-width="0.45"/>
<text x="196.9" y="352.5" font-size="3.7" font-family="'Liberation Serif', serif" text-anchor="end" font-weight="normal" fill="#222" textLength="3.9" lengthAdjust="spacingAndGlyphs" stroke="#222" stroke-width="0.13">20</text>
<line x1="197.8" y1="318.8" x2="199.4" y2="318.8" stroke="#333" stroke-width="0.45"/>
<text x="196.9" y="320.05" font-size="3.7" font-family="'Liberation Serif', serif" text-anchor="end" font-weight="normal" fill="#222" textLength="3.9" lengthAdjust="spacingAndGlyphs" stroke="#222" stroke-width="0.13">40</text>
<line x1="197.8" y1="286.35" x2="199.4" y2="286.35" stroke="#333" stroke-width="0.45"/>
<text x="196.9" y="287.6" font-size="3.7" font-family="'Liberation Serif', serif" text-anchor="end" font-weight="normal" fill="#222" textLength="3.9" lengthAdjust="spacingAndGlyphs" stroke="#222" stroke-width="0.13">60</text>
<line x1="197.8" y1="253.9" x2="199.4" y2="253.9" stroke="#333" stroke-width="0.45"/>
<text x="196.9" y="255.15" font-size="3.7" font-family="'Liberation Serif', serif" text-anchor="end" font-weight="normal" fill="#222" textLength="3.9" lengthAdjust="spacingAndGlyphs" stroke="#222" stroke-width="0.13">80</text>
<line x1="228.9" y1="383.7" x2="228.9" y2="385.2" stroke="#333" stroke-width="0.45"/>
<line x1="296.8" y1="383.7" x2="296.8" y2="385.2" stroke="#333" stroke-width="0.45"/>
<line x1="364.7" y1="383.7" x2="364.7" y2="385.2" stroke="#333" stroke-width="0.45"/>
<text transform="translate(190.2,306.4) rotate(-90)" font-size="4.6" font-family="'Liberation Serif', serif" text-anchor="middle" font-weight="bold" textLength="38.4" lengthAdjust="spacingAndGlyphs">Number of Patients</text>
<text x="260.2" y="222.4" font-size="5" font-family="'Liberation Serif', serif" text-anchor="start" font-weight="bold" fill="#000" textLength="73.8" lengthAdjust="spacingAndGlyphs">Prediction Accuracy by Risk Level</text>
<rect x="350.2" y="230" width="42.6" height="12.2" rx="0.7" fill="#fff" stroke="#ddd" stroke-width="0.4"/>
<rect x="351.3" y="232.1" width="8.4" height="2.4" fill="#6ccd83" stroke="#333" stroke-width="0.4"/>
<rect x="351.3" y="236.9" width="8.4" height="2.9" fill="url(#hatch)" stroke="#e43c3c" stroke-width="0.5"/>
<text x="362.1" y="234.6" font-size="3.8" font-family="'Liberation Serif', serif" text-anchor="start" font-weight="normal" fill="#222" textLength="29.5" lengthAdjust="spacingAndGlyphs" stroke="#222" stroke-width="0.13">Correct Predictions</text>
<text x="362.1" y="239.6" font-size="3.8" font-family="'Liberation Serif', serif" text-anchor="start" font-weight="normal" fill="#222" textLength="12.5" lengthAdjust="spacingAndGlyphs" stroke="#222" stroke-width="0.13">Failures</text>
<circle cx="556" cy="325" r="15.92" fill="none" stroke="#aaa" stroke-opacity="0.8" stroke-width="0.35" stroke-dasharray="1,0.8"/>
<circle cx="556" cy="325" r="31.84" fill="none" stroke="#aaa" stroke-opacity="0.8" stroke-width="0.35" stroke-dasharray="1,0.8"/>
<circle cx="556" cy="325" r="47.76" fill="none" stroke="#aaa" stroke-opacity="0.8" stroke-width="0.35" stroke-dasharray="1,0.8"/>
<circle cx="556" cy="325" r="63.68" fill="none" stroke="#aaa" stroke-opacity="0.8" stroke-width="0.35" stroke-dasharray="1,0.8"/>
<line x1="556" y1="325" x2="635.6" y2="325" stroke="#aaa" stroke-opacity="0.8" stroke-width="0.35" stroke-dasharray="1,0.8"/>
<line x1="556" y1="325" x2="580.6" y2="249.3" stroke="#aaa" stroke-opacity="0.8" stroke-width="0.35" stroke-dasharray="1,0.8"/>
<line x1="556" y1="325" x2="491.6" y2="278.21" stroke="#aaa" stroke-opacity="0.8" stroke-width="0.35" stroke-dasharray="1,0.8"/>
<line x1="556" y1="325" x2="491.6" y2="371.79" stroke="#aaa" stroke-opacity="0.8" stroke-width="0.35" stroke-dasharray="1,0.8"/>
<line x1="556" y1="325" x2="580.6" y2="400.7" stroke="#aaa" stroke-opacity="0.8" stroke-width="0.35" stroke-dasharray="1,0.8"/>
<polygon points="627.64,325 575.68,264.44 536.68,310.96 523.8,348.39 565.84,355.28" fill="#e74c3c" fill-opacity="0.25" stroke="#e74c3c" stroke-width="0.9"/>
<polygon points="571.92,325 563.38,302.29 498.04,282.89 504.48,362.43 563.38,347.71" fill="#3498db" fill-opacity="0.25" stroke="#3498db" stroke-width="0.9"/>
<circle cx="556" cy="325" r="79.6" fill="none" stroke="#222" stroke-width="0.75"/>
<circle cx="627.64" cy="325" r="1.55" fill="#e74c3c"/>
<circle cx="575.68" cy="264.44" r="1.55" fill="#e74c3c"/>
<circle cx="536.68" cy="310.96" r="1.55" fill="#e74c3c"/>
<circle cx="523.8" cy="348.39" r="1.55" fill="#e74c3c"/>
<circle cx="565.84" cy="355.28" r="1.55" fill="#e74c3c"/>
<rect x="570.47" y="323.55" width="2.9" height="2.9" fill="#3498db"/>
<rect x="561.93" y="300.84" width="2.9" height="2.9" fill="#3498db"/>
<rect x="496.59" y="281.44" width="2.9" height="2.9" fill="#3498db"/>
<rect x="503.03" y="360.98" width="2.9" height="2.9" fill="#3498db"/>
<rect x="561.93" y="346.26" width="2.9" height="2.9" fill="#3498db"/>
<text x="571.31" y="319.91" font-size="2.7" font-family="'Liberation Serif', serif" text-anchor="middle" font-weight="normal" fill="#333" stroke="#333" stroke-width="0.1">2</text>
<text x="586.02" y="313.82" font-size="2.7" font-family="'Liberation Serif', serif" text-anchor="middle" font-weight="normal" fill="#333" stroke="#333" stroke-width="0.1">4</text>
<text x="600.72" y="307.72" font-size="2.7" font-family="'Liberation Serif', serif" text-anchor="middle" font-weight="normal" fill="#333" stroke="#333" stroke-width="0.1">6</text>
<text x="615.43" y="301.63" font-size="2.7" font-family="'Liberation Serif', serif" text-anchor="middle" font-weight="normal" fill="#333" stroke="#333" stroke-width="0.1">8</text>
<text x="630.14" y="295.54" font-size="2.7" font-family="'Liberation Serif', serif" text-anchor="middle" font-weight="normal" fill="#333" stroke="#333" stroke-width="0.1">10</text>
<text x="582" y="242.8" font-size="3.7" font-family="'Liberation Serif', serif" text-anchor="middle" font-weight="bold" fill="#000" textLength="14" lengthAdjust="spacingAndGlyphs" stroke="#000" stroke-width="0.13">Vascular</text>
<text x="582" y="246.5" font-size="3.7" font-family="'Liberation Serif', serif" text-anchor="middle" font-weight="bold" fill="#000" textLength="15.8" lengthAdjust="spacingAndGlyphs" stroke="#000" stroke-width="0.13">Enhancing</text>
<text x="641" y="323.9" font-size="3.7" font-family="'Liberation Serif', serif" text-anchor="middle" font-weight="bold" fill="#000" textLength="19.7" lengthAdjust="spacingAndGlyphs" stroke="#000" stroke-width="0.13">Micro-lesion</text>
<text x="641" y="327.5" font-size="3.7" font-family="'Liberation Serif', serif" text-anchor="middle" font-weight="bold" fill="#000" textLength="14.8" lengthAdjust="spacingAndGlyphs" stroke="#000" stroke-width="0.13">Detection</text>
<text x="582" y="405.2" font-size="3.7" font-family="'Liberation Serif', serif" text-anchor="middle" font-weight="bold" fill="#000" textLength="11.5" lengthAdjust="spacingAndGlyphs" stroke="#000" stroke-width="0.13">Special</text>
<text x="582" y="408.4" font-size="3.7" font-family="'Liberation Serif', serif" text-anchor="middle" font-weight="bold" fill="#000" textLength="14" lengthAdjust="spacingAndGlyphs" stroke="#000" stroke-width="0.13">Subtypes</text>
<text x="486.2" y="374.4" font-size="3.7" font-family="'Liberation Serif', serif" text-anchor="middle" font-weight="bold" fill="#000" textLength="6.7" lengthAdjust="spacingAndGlyphs" stroke="#000" stroke-width="0.13">Data</text>
<text x="486.2" y="377.6" font-size="3.7" font-family="'Liberation Serif', serif" text-anchor="middle" font-weight="bold" fill="#000" textLength="11.8" lengthAdjust="spacingAndGlyphs" stroke="#000" stroke-width="0.13">Quality</text>
<text x="486.3" y="273.7" font-size="3.7" font-family="'Liberation Serif', serif" text-anchor="middle" font-weight="bold" fill="#000" textLength="12.7" lengthAdjust="spacingAndGlyphs" stroke="#000" stroke-width="0.13">Clinical</text>
<text x="486.3" y="277.7" font-size="3.7" font-family="'Liberation Serif', serif" text-anchor="middle" font-weight="bold" fill="#000" textLength="12.5" lengthAdjust="spacingAndGlyphs" stroke="#000" stroke-width="0.13">Context</text>
<text x="502.4" y="221.9" font-size="4.5" font-family="'Liberation Serif', serif" text-anchor="start" font-weight="bold" fill="#000" textLength="106.8" lengthAdjust="spacingAndGlyphs" stroke="#000" stroke-width="0.16">Failure Mode Analysis: False Negative vs. False Positive</text>
<text x="479" y="223.4" font-size="6.2" font-family="'Liberation Sans', sans-serif" text-anchor="start" font-weight="normal" fill="#222" textLength="6.3" lengthAdjust="spacingAndGlyphs">(f)</text>
<rect x="646.2" y="230.3" width="35.5" height="11.8" rx="0.7" fill="#fff" stroke="#ddd" stroke-width="0.4"/>
<line x1="646.9" y1="233.6" x2="655.8" y2="233.6" stroke="#e74c3c" stroke-width="0.9"/><circle cx="651.4" cy="233.6" r="1.3" fill="#e74c3c"/>
<line x1="646.9" y1="238.8" x2="655.8" y2="238.8" stroke="#3498db" stroke-width="0.9"/><rect x="650.1" y="237.5" width="2.6" height="2.6" fill="#3498db"/>
<text x="658.1" y="234.9" font-size="3.7" font-family="'Liberation Serif', serif" text-anchor="start" font-weight="normal" fill="#222" textLength="22" lengthAdjust="spacingAndGlyphs" stroke="#222" stroke-width="0.13">False Negative</text>
<text x="658.1" y="240.1" font-size="3.7" font-family="'Liberation Serif', serif" text-anchor="start" font-weight="normal" fill="#222" textLength="20.7" lengthAdjust="spacingAndGlyphs" stroke="#222" stroke-width="0.13">False Positive</text>
<text x="451.6" y="418.8" font-size="6.1" font-family="'Liberation Sans', sans-serif" text-anchor="start" font-weight="normal" fill="#222" textLength="187" lengthAdjust="spacingAndGlyphs">Risk Stratification Distribution and Prediction Accuracy by Risk Level.</text>
</svg>
</body></html>
